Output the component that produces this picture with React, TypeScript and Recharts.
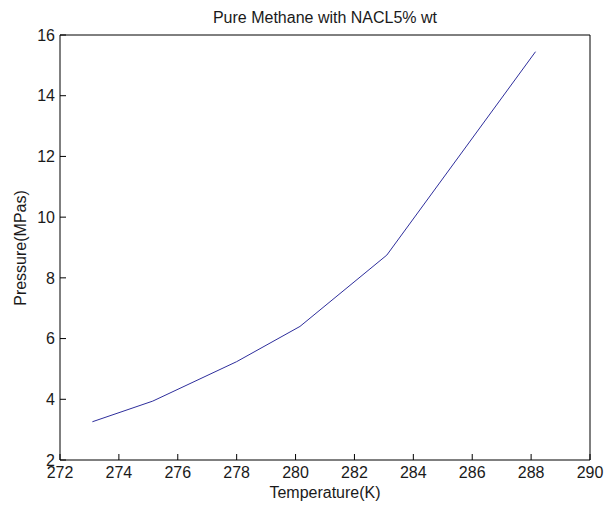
import React from "react";
import {Label, Line, LineChart, XAxis, YAxis} from "recharts";

// Hydrate equilibrium curve, temperature in K, pressure in MPa
const temperatures: number[] = [273.1, 275.15, 278.0, 280.15, 283.1, 288.15];
const pressures: number[] = [3.26, 3.94, 5.24, 6.4, 8.75, 15.45];

const xTicks: number[] = [272, 274, 276, 278, 280, 282, 284, 286, 288, 290];
const yTicks: number[] = [2, 4, 6, 8, 10, 12, 14, 16];

const chartData = temperatures.map((t, i) => ({temp: t, pressure: pressures[i]}));

const font = "'Liberation Sans', Arial, Helvetica, sans-serif";
const tickStyle = {fontFamily: font, fontSize: 16, fill: "#1a1a1a"};
const labelStyle = {fontFamily: font, fontSize: 16, fill: "#1a1a1a"};

export default function App() {
  return (
    <div style={{position: "absolute", left: 0, top: 0, background: "#fff"}}>
      <LineChart
        width={610}
        height={505}
        data={chartData}
        margin={{top: 34, right: 19, bottom: 0, left: 0}}
      >
        <XAxis
          dataKey="temp"
          type="number"
          domain={[272, 290]}
          ticks={xTicks}
          height={45}
          tickSize={-6}
          tickMargin={13}
          tick={tickStyle}
          stroke="#000"
          tickLine={{stroke: "#000"}}
          allowDataOverflow
        >
          <Label value="Temperature(K)" position="insideBottom" offset={7} style={labelStyle}/>
        </XAxis>
        {/* top and right edges of the box, ticks pointing inward */}
        <XAxis
          xAxisId="top"
          dataKey="temp"
          orientation="top"
          type="number"
          domain={[272, 290]}
          ticks={xTicks}
          height={1}
          tickSize={-6}
          tick={false}
          stroke="#000"
          tickLine={{stroke: "#000"}}
          allowDataOverflow
        >
          <Label value="Pure Methane with NACL5% wt" position="top" offset={11} style={labelStyle}/>
        </XAxis>
        <YAxis
          type="number"
          domain={[2, 16]}
          ticks={yTicks}
          width={60}
          tickSize={-6}
          tickMargin={11}
          tick={tickStyle}
          stroke="#000"
          tickLine={{stroke: "#000"}}
          allowDataOverflow
        >
          <Label
            content={() => (
              <text
                x={20}
                y={248}
                transform="rotate(-90 20 248)"
                textAnchor="middle"
                dominantBaseline="central"
                style={labelStyle}
              >
                Pressure(MPas)
              </text>
            )}
          />
        </YAxis>
        <YAxis
          yAxisId="right"
          orientation="right"
          type="number"
          domain={[2, 16]}
          ticks={yTicks}
          width={1}
          tickSize={-6}
          tick={false}
          stroke="#000"
          tickLine={{stroke: "#000"}}
          allowDataOverflow
        />
        <Line
          type="linear"
          dataKey="pressure"
          stroke="#2e2e9c"
          strokeWidth={1}
          dot={false}
          activeDot={false}
          isAnimationActive={false}
        />
        {/* invisible copy so the box axes get rendered */}
        <Line
          xAxisId="top"
          yAxisId="right"
          type="linear"
          dataKey="pressure"
          stroke="none"
          dot={false}
          activeDot={false}
          legendType="none"
          isAnimationActive={false}
        />
      </LineChart>
    </div>
  );
}
